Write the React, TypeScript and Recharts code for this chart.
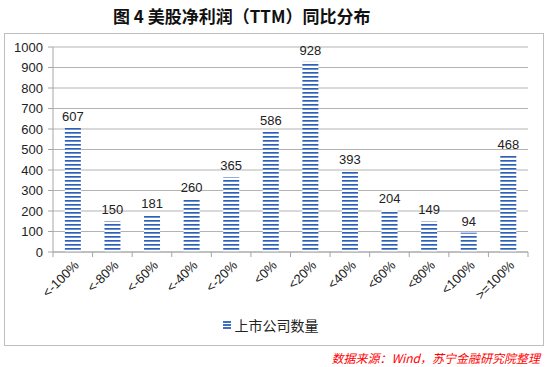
import React from "react";
import { BarChart, Bar, XAxis, YAxis, CartesianGrid, Legend, LabelList } from "recharts";

const categories = ["<-100%", "<-80%", "<-60%", "<-40%", "<-20%", "<0%", "<20%", "<40%", "<60%", "<80%", "<100%", ">=100%"];
const counts = [607, 150, 181, 260, 365, 586, 928, 393, 204, 149, 94, 468];
const yTicks = [0, 100, 200, 300, 400, 500, 600, 700, 800, 900, 1000];

const FONT = "'Liberation Sans', Arial, sans-serif";
const AXIS_COLOR = "#a6a6a6";

const PLOT_LEFT = 53;
const PLOT_RIGHT = 528;
const HALF_BAND = (PLOT_RIGHT - PLOT_LEFT) / categories.length / 2;

const data = categories.map((c, i) => ({ name: c, value: counts[i] }));

const XTick = (props: any) => {
  const { x, y, payload, index } = props;
  return (
    <g>
      <line x1={x - HALF_BAND} y1={y - 8} x2={x - HALF_BAND} y2={y - 3} stroke={AXIS_COLOR} />
      {index === categories.length - 1 && (
        <line x1={x + HALF_BAND} y1={y - 8} x2={x + HALF_BAND} y2={y - 3} stroke={AXIS_COLOR} />
      )}
      <text
        x={x + 7}
        y={y + 6}
        textAnchor="end"
        fontSize={13}
        fontFamily={FONT}
        fill="#222"
        transform={`rotate(-45 ${x + 7} ${y + 6})`}
      >
        {payload.value}
      </text>
    </g>
  );
};

const LegendContent = () => (
  <div style={{ display: "flex", justifyContent: "center", alignItems: "center", fontFamily: "'Noto Sans CJK SC', sans-serif", fontSize: 14, color: "#222", paddingTop: 3 }}>
    <svg width={8} height={8} style={{ marginRight: 4 }}>
      <rect x={0} y={0} width={8} height={2} fill="#3f6fc0" />
      <rect x={0} y={3} width={8} height={2} fill="#3f6fc0" />
      <rect x={0} y={6} width={8} height={2} fill="#3f6fc0" />
    </svg>
    <span>上市公司数量</span>
  </div>
);

export default function App() {
  return (
    <div style={{ position: "absolute", left: 0, top: 0, width: 550, height: 367, background: "#fff" }}>
      <div
        style={{
          position: "absolute",
          left: 113,
          top: 3,
          fontFamily: "'Noto Sans CJK SC', sans-serif",
          fontWeight: 700,
          fontSize: 17,
          color: "#111",
          whiteSpace: "pre",
        }}
      >
        图 4 美股净利润（TTM）同比分布
      </div>
      <div
        style={{
          position: "absolute",
          left: 4,
          top: 33,
          width: 538,
          height: 311,
          border: "1px solid #bfbfbf",
        }}
      />
      <div style={{ position: "absolute", left: 0, top: 0 }}>
        <BarChart
          width={550}
          height={367}
          data={data}
          margin={{ top: 47, right: 22, left: 13, bottom: 30 }}
          barCategoryGap="30%"
        >
          <defs>
            <pattern id="stripes" width={4} height={4} patternUnits="userSpaceOnUse">
              <rect x={0} y={0} width={4} height={4} fill="#ffffff" />
              <rect x={0} y={0} width={4} height={1} fill="#2f5fb3" />
              <rect x={0} y={1} width={4} height={1} fill="#6a92d4" />
            </pattern>
          </defs>
          <CartesianGrid vertical={false} stroke="#b3b3b3" />
          <XAxis
            dataKey="name"
            stroke={AXIS_COLOR}
            tickLine={false}
            interval={0}
            height={60}
            tick={<XTick />}
          />
          <YAxis
            domain={[0, 1000]}
            ticks={yTicks}
            interval={0}
            width={40}
            stroke={AXIS_COLOR}
            tickSize={5}
            tickMargin={5}
            tick={{ fontSize: 13, fontFamily: FONT, fill: "#222" }}
          />
          <Legend verticalAlign="bottom" height={25} content={<LegendContent />} />
          <Bar dataKey="value" name="上市公司数量" fill="url(#stripes)" isAnimationActive={false}>
            <LabelList dataKey="value" position="top" offset={7} fontSize={13} fontFamily={FONT} fill="#222" />
          </Bar>
        </BarChart>
      </div>
      <div
        style={{
          position: "absolute",
          right: 10,
          top: 349,
          fontFamily: "'Noto Sans CJK SC', sans-serif",
          fontStyle: "italic",
          fontSize: 12,
          color: "#ff0000",
          whiteSpace: "nowrap",
        }}
      >
        数据来源：Wind，苏宁金融研究院整理
      </div>
    </div>
  );
}
